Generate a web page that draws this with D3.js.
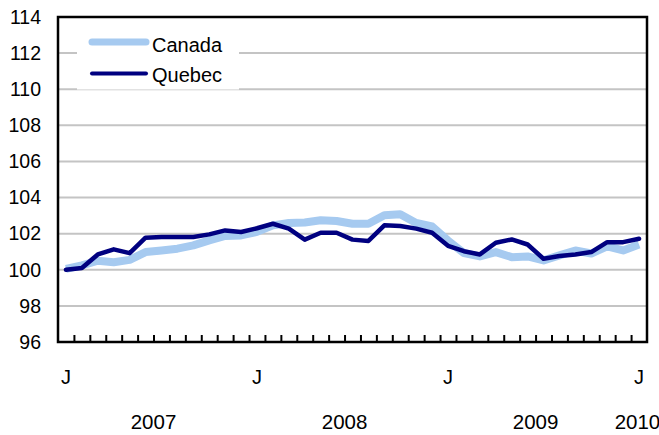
<!DOCTYPE html>
<html>
<head>
<meta charset="utf-8">
<script src="https://cdn.jsdelivr.net/npm/d3@7"></script>
<style>
  html, body { margin: 0; padding: 0; background: #fff; }
  svg { display: block; }
  text { font-family: "Liberation Sans", Arial, Helvetica, sans-serif; fill: #000; }
</style>
</head>
<body>
<svg id="chart" width="659" height="435"></svg>
<script>
// ---- data ----
const months = ["J","F","M","A","M","J","J","A","S","O","N","D",
                "J","F","M","A","M","J","J","A","S","O","N","D",
                "J","F","M","A","M","J","J","A","S","O","N","D","J"];
const canada = [100.05, 100.24, 100.5, 100.42, 100.55, 100.98, 101.07, 101.17, 101.35, 101.63, 101.87, 101.9,
                102.1, 102.46, 102.59, 102.62, 102.74, 102.7, 102.55, 102.55, 103.02, 103.07, 102.59, 102.4,
                101.62, 100.92, 100.74, 100.98, 100.7, 100.74, 100.52, 100.8, 101.07, 100.9, 101.3, 101.07, 101.4];
const quebec = [100.0, 100.1, 100.85, 101.13, 100.92, 101.78, 101.81, 101.82, 101.82, 101.96, 102.18, 102.09,
                102.3, 102.55, 102.28, 101.67, 102.05, 102.05, 101.67, 101.6, 102.46, 102.42, 102.28, 102.05,
                101.33, 101.03, 100.85, 101.5, 101.68, 101.4, 100.61, 100.76, 100.85, 100.98, 101.53, 101.53, 101.72];
const yTicks = [96, 98, 100, 102, 104, 106, 108, 110, 112, 114];
const monthLabelIdx = [0, 12, 24, 36];
const years = ["2007", "2008", "2009", "2010"];
const yearPos = [6, 18, 30, 36.4];
const seriesNames = ["Canada", "Quebec"];
const seriesColors = ["#a6caf0", "#000080"];
const seriesWidths = [8, 4.5];

// ---- layout ----
const L = 58, R = 647, T = 17, B = 342;
const svg = d3.select("#chart");

const x = d3.scaleBand().domain(d3.range(months.length)).range([L, R]).padding(0);
const xLin = d3.scaleLinear().domain([0, months.length]).range([L, R]);
const y = d3.scaleLinear().domain([96, 114]).range([B, T]);

// gridlines
svg.append("g").selectAll("line")
  .data(yTicks.filter(v => v > 96 && v < 114))
  .join("line")
  .attr("x1", L).attr("x2", R)
  .attr("y1", d => y(d)).attr("y2", d => y(d))
  .attr("stroke", "#c4c4c4").attr("stroke-width", 2);

// y axis labels
const yAxis = d3.axisLeft(y).tickValues(yTicks).tickSize(0).tickPadding(17).tickFormat(d3.format("d"));
const gy = svg.append("g").attr("transform", `translate(${L},0)`).call(yAxis);
gy.select(".domain").remove();
gy.selectAll("text").style("font-size", "19.5px").style("font-family", '"Liberation Sans", Arial, sans-serif');

// bottom inward ticks at month boundaries
const xAxis = d3.axisBottom(xLin).tickValues(d3.range(1, months.length)).tickSize(-7).tickFormat("");
const gx = svg.append("g").attr("transform", `translate(0,${B})`).call(xAxis);
gx.select(".domain").remove();
gx.selectAll(".tick line").attr("stroke", "#000").attr("stroke-width", 2);

// lines
const line = d3.line().x((d, i) => x(i) + x.bandwidth() / 2).y(d => y(d));
[canada, quebec].forEach((s, k) => {
  svg.append("path").datum(s)
    .attr("d", line)
    .attr("fill", "none")
    .attr("stroke", seriesColors[k])
    .attr("stroke-width", seriesWidths[k])
    .attr("stroke-linejoin", "round")
    .attr("stroke-linecap", k === 1 ? "round" : "butt");
});

// frame
svg.append("rect")
  .attr("x", L).attr("y", T).attr("width", R - L).attr("height", B - T)
  .attr("fill", "none").attr("stroke", "#000").attr("stroke-width", 2.5);

// month labels
svg.append("g").selectAll("text")
  .data(monthLabelIdx)
  .join("text")
  .attr("x", d => x(d) + x.bandwidth() / 2)
  .attr("y", 377)
  .attr("text-anchor", "middle")
  .attr("dominant-baseline", "central")
  .style("font-size", "20px")
  .text(d => months[d]);

// year labels
svg.append("g").selectAll("text")
  .data(years)
  .join("text")
  .attr("x", (d, i) => xLin(yearPos[i]))
  .attr("y", 421)
  .attr("text-anchor", "middle")
  .attr("dominant-baseline", "central")
  .style("font-size", "20.5px")
  .text(d => d);

// legend
const lg = svg.append("g");
lg.append("rect").attr("x", 77).attr("y", 24).attr("width", 162).attr("height", 65.5).attr("fill", "#fff");
const legY = [42, 73.5], legTextY = [45, 75];
seriesNames.forEach((n, k) => {
  lg.append("line")
    .attr("x1", 92).attr("x2", 146)
    .attr("y1", legY[k]).attr("y2", legY[k])
    .attr("stroke", seriesColors[k])
    .attr("stroke-width", k === 0 ? 7 : 4)
    .attr("stroke-linecap", "round");
  lg.append("text")
    .attr("x", 152).attr("y", legTextY[k])
    .attr("dominant-baseline", "central")
    .style("font-size", "20px")
    .text(n);
});
</script>
</body>
</html>
